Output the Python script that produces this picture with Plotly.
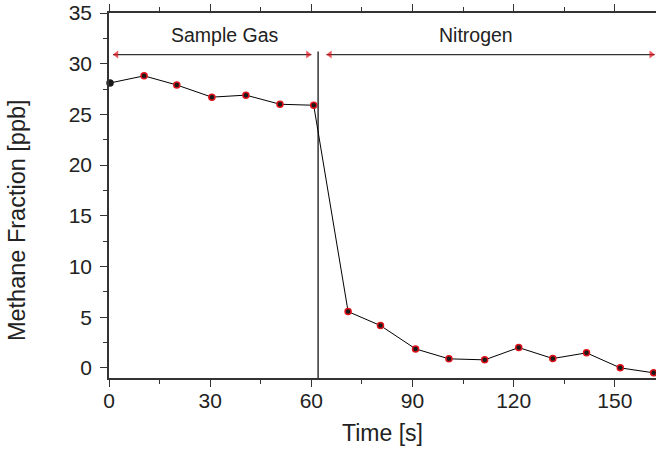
import plotly.graph_objects as go

time_s = [0.3, 10.4, 20.1, 30.5, 40.6, 50.7, 60.7, 70.9, 80.5, 90.9, 100.8, 111.4, 121.5, 131.6, 141.6, 151.6, 161.5]
methane_ppb = [28.1, 28.8, 27.9, 26.7, 26.9, 26.0, 25.9, 5.55, 4.17, 1.87, 0.89, 0.79, 2.0, 0.92, 1.48, 0.0, -0.49]

switch_time = 62
switch_line_y = [31.2, -1]
phase_labels = ["Sample Gas", "Nitrogen"]
phase_label_x = [34.4, 108.9]
phase_label_y = 32.8
phase_arrow_start = [1.2, 64.5]
phase_arrow_end = [60.0, 161.8]
phase_arrow_y = 30.9

font_family = "Liberation Sans, Arial, Helvetica, sans-serif"
text_color = "#222222"
marker_edge = ["#1a1a1a"] + ["#e0121b"] * (len(time_s) - 1)

fig = go.Figure()

fig.add_trace(go.Scatter(
    x=time_s, y=methane_ppb, mode="lines+markers",
    line=dict(color="black", width=1),
    marker=dict(color="#1a1a1a", size=6, line=dict(color=marker_edge, width=1.5)),
    showlegend=False, cliponaxis=False,
))

# phase arrows
for xs, xe in zip(phase_arrow_start, phase_arrow_end):
    fig.add_trace(go.Scatter(
        x=[xs, xe], y=[phase_arrow_y, phase_arrow_y], mode="lines",
        line=dict(color="#333333", width=1.2), showlegend=False, hoverinfo="skip",
        cliponaxis=False,
    ))
    fig.add_trace(go.Scatter(
        x=[xs + 1.0, xe - 1.0], y=[phase_arrow_y, phase_arrow_y], mode="markers",
        marker=dict(symbol=["triangle-left", "triangle-right"], color="#e0121b", size=[7, 7],
                    line=dict(width=0)),
        showlegend=False, hoverinfo="skip", cliponaxis=False,
    ))

fig.add_shape(type="line", x0=switch_time, x1=switch_time, y0=switch_line_y[0], y1=switch_line_y[1],
              xref="x", yref="y", line=dict(color="black", width=1.2))

for lab, lx in zip(phase_labels, phase_label_x):
    fig.add_annotation(x=lx, y=phase_label_y, text=lab, showarrow=False,
                       font=dict(size=19.5, color=text_color, family=font_family))

# y-axis title (placed as annotation to match its off-centre position)
fig.add_annotation(
    xref="paper", yref="paper", x=-0.168, y=0.433, text="Methane Fraction [ppb]",
    textangle=-90, showarrow=False, xanchor="center", yanchor="middle",
    font=dict(size=23.5, color=text_color, family=font_family),
)

axis_common = dict(
    showgrid=False, zeroline=False, showline=True, linecolor="#333333", linewidth=1.5,
    ticks="outside", tickcolor="#333333", tickwidth=1.3, ticklen=7, automargin=False,
    tickfont=dict(size=21, color=text_color, family=font_family),
)

fig.update_xaxes(
    range=[0, 162.2], dtick=30, tick0=0, mirror="ticks",
    minor=dict(dtick=15, ticks="outside", ticklen=4, tickcolor="#333333", tickwidth=1.3),
    title=dict(text="Time [s]", font=dict(size=23, color=text_color, family=font_family), standoff=14),
    ticklabelstandoff=-4,
    **axis_common,
)
fig.update_yaxes(
    range=[-1, 35], dtick=5, tick0=0,
    minor=dict(dtick=2.5, ticks="outside", ticklen=4, tickcolor="#333333", tickwidth=1.3),
    ticklabelstandoff=4,
    **axis_common,
)

fig.update_layout(
    width=656, height=451,
    margin=dict(l=109, r=0, t=13, b=73),
    plot_bgcolor="white", paper_bgcolor="white",
    font=dict(family=font_family),
)

fig.write_html(
    "out.html",
    config={"displayModeBar": False},
    post_script="document.body.style.margin='0px';document.body.style.overflow='hidden';",
)
